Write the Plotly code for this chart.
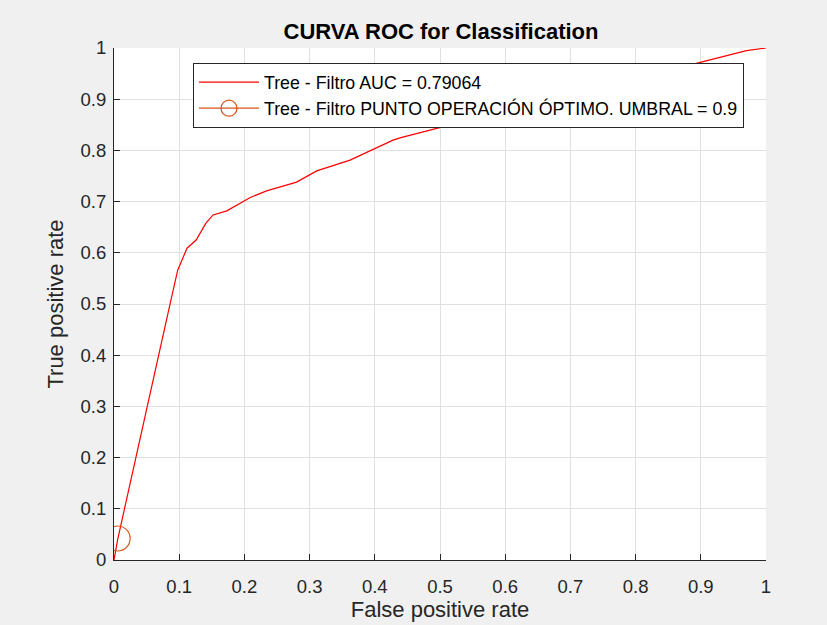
import plotly.graph_objects as go

fpr = [0.0, 0.0056, 0.0874, 0.0977, 0.112, 0.126, 0.141, 0.152, 0.173, 0.209, 0.234,
       0.280, 0.311, 0.362, 0.428, 0.44, 0.556, 0.60, 0.70, 0.80, 0.893, 0.97, 1.0]
tpr = [0.0, 0.040, 0.508, 0.566, 0.609, 0.625, 0.658, 0.674, 0.682, 0.708, 0.721,
       0.738, 0.760, 0.781, 0.820, 0.825, 0.863, 0.875, 0.905, 0.935, 0.970, 0.995, 1.0]
opt_x = [0.0056]
opt_y = [0.042]
auc_label = "Tree - Filtro AUC = 0.79064"
opt_label = "Tree - Filtro PUNTO OPERACIÓN ÓPTIMO. UMBRAL = 0.9"
ticks = [0, 0.1, 0.2, 0.3, 0.4, 0.5, 0.6, 0.7, 0.8, 0.9, 1]
tick_text = ["0", "0.1", "0.2", "0.3", "0.4", "0.5", "0.6", "0.7", "0.8", "0.9", "1"]

font = "Liberation Sans, Arial, sans-serif"
fig = go.Figure()
fig.add_trace(go.Scatter(x=fpr, y=tpr, mode="lines", name=auc_label,
                         line=dict(color="#ff0000", width=1.2)))
fig.add_trace(go.Scatter(x=opt_x, y=opt_y, mode="lines+markers", name=opt_label,
                         line=dict(color="#d95319", width=1.2),
                         marker=dict(symbol="circle-open", size=25, color="#d95319",
                                     line=dict(width=1.2, color="#d95319"))))

axis_common = dict(range=[0, 1], tickvals=ticks, ticktext=tick_text,
                   showgrid=True, gridcolor="#e0e0e0", gridwidth=1,
                   showline=True, linecolor="#262626", linewidth=1,
                   ticks="inside", ticklen=6, tickcolor="#262626",
                   tickfont=dict(family=font, size=18.5, color="#262626"),
                   zeroline=False, fixedrange=True, automargin=False)

fig.update_layout(
    width=827, height=625,
    margin=dict(l=114, r=61, t=48, b=65),
    paper_bgcolor="#f0f0f0", plot_bgcolor="#ffffff",
    title=dict(text="<b>CURVA ROC for Classification</b>", x=441 / 827, xanchor="center",
               y=1 - 31 / 625, yanchor="middle", yref="container",
               font=dict(family=font, size=22, color="#000000")),
    xaxis=dict(**axis_common, ticklabelstandoff=10,
               title=dict(text="False positive rate", standoff=4,
                          font=dict(family=font, size=22, color="#262626"))),
    yaxis=dict(**axis_common, ticklabelstandoff=3,
               title=dict(text="True positive rate", standoff=10,
                          font=dict(family=font, size=22, color="#262626"))),
    legend=dict(x=(193 - 114) / 652, y=(560 - 63) / 512, xanchor="left", yanchor="top",
                bgcolor="#ffffff", bordercolor="#262626", borderwidth=1,
                font=dict(family=font, size=17.8, color="#000000"),
                itemwidth=60, tracegroupgap=0),
    showlegend=True,
)

fig.write_html("out.html")
